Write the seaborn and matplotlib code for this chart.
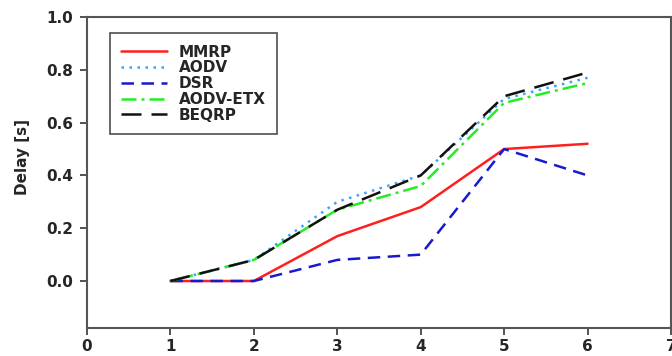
import pandas as pd
import matplotlib.pyplot as plt
import seaborn as sns

# Dados
x_vals = [1, 2, 3, 4, 5, 6]
mmrp = [0.0, 0.0, 0.17, 0.28, 0.50, 0.52]
aodv = [0.0, 0.08, 0.30, 0.40, 0.69, 0.77]
dsr = [0.0, 0.0, 0.08, 0.10, 0.50, 0.40]
aodv_etx = [0.0, 0.08, 0.27, 0.36, 0.675, 0.75]
beqrp = [0.0, 0.08, 0.27, 0.40, 0.70, 0.79]
protocolos = ["MMRP", "AODV", "DSR", "AODV-ETX", "BEQRP"]
y_ticks = [0.0, 0.2, 0.4, 0.6, 0.8, 1.0]
x_ticks = [0, 1, 2, 3, 4, 5, 6, 7]

series = [mmrp, aodv, dsr, aodv_etx, beqrp]
df = pd.concat(
    [pd.DataFrame({"x": x_vals, "delay": v, "Protocolo": p}) for p, v in zip(protocolos, series)],
    ignore_index=True,
)

cores = {"MMRP": "#ff1f1f", "AODV": "#3fa0ff", "DSR": "#1a1acc",
         "AODV-ETX": "#22ee22", "BEQRP": "#111111"}
tracos = {"MMRP": "", "AODV": (1, 2.2), "DSR": (5, 3),
          "AODV-ETX": (6, 2, 1.2, 2), "BEQRP": (8, 4)}

sns.set_style("white")
plt.rcParams['font.family'] = ['DejaVu Sans']

fig = plt.figure(figsize=(6.72, 3.56), dpi=100)
ax = fig.add_axes([0.1295, 0.0787, 0.8690, 0.8733])

sns.lineplot(data=df, x="x", y="delay", hue="Protocolo", style="Protocolo",
             palette=cores, dashes=tracos, hue_order=protocolos, style_order=protocolos,
             linewidth=1.8, ax=ax)

ax.set_xlim(0, 7)
ax.set_ylim(-0.178, 1.0)
ax.set_xticks(x_ticks)
ax.set_yticks(y_ticks)
ax.set_xticklabels([str(t) for t in x_ticks], fontweight="bold", fontsize=11)
ax.set_yticklabels([f"{t:.1f}" for t in y_ticks], fontweight="bold", fontsize=11)
ax.tick_params(axis="both", direction="out", length=5, width=1.3, color="#444444",
               left=True, bottom=True, pad=5)
ax.tick_params(axis="x", pad=3)
for s in ax.spines.values():
    s.set_color("#555555")
    s.set_linewidth(1.5)

ax.set_xlabel("")
ax.set_ylabel("Delay [s]", fontweight="bold", fontsize=11)
ax.yaxis.set_label_coords(-0.098, 0.55)

leg = ax.legend(loc="upper left", bbox_to_anchor=(0.039, 0.948), frameon=True,
                fancybox=False, edgecolor="#222222", handlelength=3.0,
                labelspacing=0.05, borderpad=0.75, handletextpad=0.75,
                borderaxespad=0, prop={"weight": "bold", "size": 11})
leg.get_frame().set_linewidth(1.2)

plt.savefig("out.png", dpi=100)
